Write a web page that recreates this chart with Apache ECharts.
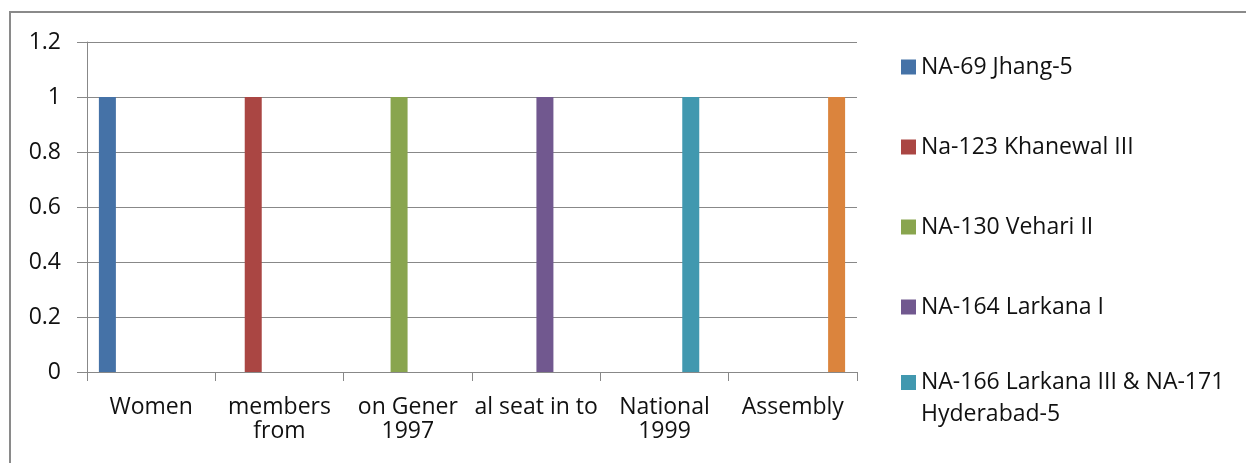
<!DOCTYPE html>
<html>
<head>
<meta charset="utf-8">
<style>
  html, body { margin: 0; padding: 0; background: #ffffff; }
  #chart { width: 1246px; height: 463px; }
</style>
<script src="https://cdn.jsdelivr.net/npm/echarts@6/dist/echarts.min.js"></script>
</head>
<body>
<div id="chart"></div>
<script>
// Category labels along the x axis (wrapped as they appear under each slot)
const categories = ['Women', 'members\nfrom', 'on Gener\n1997', 'al seat in to', 'National\n1999', 'Assembly'];

// Constituency series names
const seriesNames = [
  'NA-69 Jhang-5',
  'Na-123 Khanewal III',
  'NA-130 Vehari II',
  'NA-164 Larkana I',
  'NA-166 Larkana III & NA-171 Hyderabad-5',
  'Series 6'
];

// One value per category for each series (null = no bar)
const jhang      = [1, null, null, null, null, null];
const khanewal   = [null, 1, null, null, null, null];
const vehari     = [null, null, 1, null, null, null];
const larkanaI   = [null, null, null, 1, null, null];
const larkanaIII = [null, null, null, null, 1, null];
const series6    = [null, null, null, null, null, 1];
const seriesValues = [jhang, khanewal, vehari, larkanaI, larkanaIII, series6];

const colors = ['#4572A7', '#AA4643', '#89A54E', '#71588F', '#4198AF', '#DB843D'];

const FONT = '"Open Sans", sans-serif';
const TEXT = '#111111';
const LINE = '#888888';

const chart = echarts.init(document.getElementById('chart'), null, { renderer: 'canvas' });

// The long legend entry wraps after "NA-171"; a blank leading line keeps the
// swatch level with the first line of text (the block is centred on the swatch).
function wrapLegend(name) {
  const cut = name.indexOf(' Hyderabad');
  if (cut < 0) return name;
  return '{t| }\n{t|' + name.slice(0, cut) + '}\n{t|' + name.slice(cut + 1) + '}';
}

const legendText = { fontFamily: FONT, fontSize: 23, color: TEXT, lineHeight: 24 };

const option = {
  backgroundColor: '#ffffff',
  animation: false,
  color: colors,
  graphic: [{
    type: 'rect',
    silent: true,
    shape: { x: 10, y: 12, width: 1400, height: 600 },
    style: { fill: 'none', stroke: '#8a8a8a', lineWidth: 2 }
  }],
  grid: { left: 87, right: 389, top: 42, bottom: 91, containLabel: false },
  legend: [
    {
      orient: 'vertical',
      left: 901,
      top: 55,
      padding: 0,
      itemWidth: 15,
      itemHeight: 15,
      itemGap: 56,
      icon: 'rect',
      selectedMode: false,
      textStyle: legendText,
      data: seriesNames.slice(0, 4)
    },
    {
      orient: 'vertical',
      left: 901,
      top: 339,
      padding: 0,
      itemWidth: 15,
      itemHeight: 15,
      icon: 'rect',
      selectedMode: false,
      formatter: wrapLegend,
      textStyle: {
        fontFamily: FONT, fontSize: 23, color: TEXT,
        rich: { t: { fontFamily: FONT, fontSize: 23, color: TEXT, lineHeight: 32 } }
      },
      data: [seriesNames[4]]
    }
  ],
  xAxis: {
    type: 'category',
    data: categories,
    axisLine: { show: true, lineStyle: { color: LINE, width: 1 } },
    axisTick: { show: true, length: 9, interval: 0, lineStyle: { color: LINE } },
    axisLabel: {
      interval: 0,
      margin: 23,
      fontFamily: FONT,
      fontSize: 23,
      lineHeight: 24,
      color: TEXT
    },
    splitLine: { show: false }
  },
  yAxis: {
    type: 'value',
    min: 0,
    max: 1.2,
    interval: 0.2,
    axisLine: { show: true, lineStyle: { color: LINE, width: 1 } },
    axisTick: { show: true, length: 10, lineStyle: { color: LINE } },
    axisLabel: {
      margin: 26,
      fontFamily: FONT,
      fontSize: 23,
      color: TEXT
    },
    splitLine: { show: true, lineStyle: { color: LINE, width: 1 } }
  },
  series: seriesNames.map((name, i) => ({
    name: name,
    type: 'bar',
    data: seriesValues[i],
    barWidth: 17,
    barGap: '3%',
    itemStyle: { color: colors[i] }
  }))
};

chart.setOption(option);
</script>
</body>
</html>
